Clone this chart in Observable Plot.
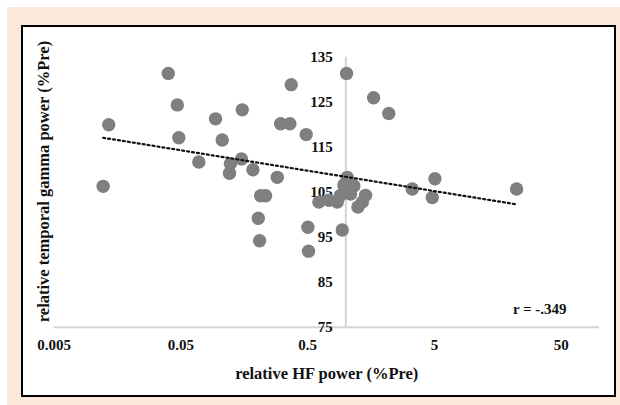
<!DOCTYPE html>
<html>
<head>
<meta charset="utf-8">
<script src="https://cdn.jsdelivr.net/npm/d3@7"></script>
<script src="https://cdn.jsdelivr.net/npm/@observablehq/plot@0.6"></script>
<style>
  html, body { margin: 0; padding: 0; background: #ffffff; }
  #wrap { position: relative; width: 620px; height: 405px; overflow: hidden; }
  #peach { position: absolute; left: 7px; top: 7px; width: 613px; height: 398px; background: #fbe8da; }
  #box { position: absolute; left: 21px; top: 25px; width: 591px; height: 368px; background: #ffffff; border: 2.5px solid #000000; }
  #chart { position: absolute; left: 0; top: 0; }
</style>
</head>
<body>
<div id="wrap">
  <div id="peach"></div>
  <div id="box"></div>
  <div id="chart"></div>
</div>
<script>
// ---- data ----
const xTicks = [0.005, 0.05, 0.5, 5, 50];
const xTickLabels = ["0.005", "0.05", "0.5", "5", "50"];
const yTicks = [75, 85, 95, 105, 115, 125, 135];
const hfPower = [0.0398, 0.0469, 0.0135, 0.0482, 0.0939, 0.1525, 0.106, 0.371, 0.306, 0.362,
  0.487, 0.0693, 0.123, 0.1505, 0.121, 0.185, 0.288, 0.0122, 0.2127, 0.233,
  0.204, 0.209, 0.502, 0.508, 1.013, 1.655, 2.18, 3.34, 5.04, 4.80,
  22.2, 0.937, 1.025, 0.965, 1.157, 1.09, 0.856, 0.613, 0.735, 1.43,
  1.35, 1.245, 0.908];
const gammaPower = [131.4, 124.4, 120.0, 117.1, 121.3, 123.3, 116.6, 128.9, 120.2, 120.2,
  117.8, 111.7, 111.3, 112.4, 109.2, 110.0, 108.3, 106.3, 104.2, 104.2,
  99.2, 94.2, 97.2, 91.9, 131.4, 126.0, 122.5, 105.7, 108.0, 103.8,
  105.7, 96.6, 108.3, 106.6, 106.4, 104.6, 102.8, 102.8, 103.2, 104.3,
  102.8, 101.7, 104.3];
const trendX = [0.0122, 22.2];
const trendY = [117.1, 102.3];
const axisCross = [1];
const annotation = [{x: 55, y: 78.9, text: "r = -.349"}];
const xTitle = "relative HF power (%Pre)";
const yTitle = "relative temporal gamma power (%Pre)";

const points = hfPower.map((v, i) => ({x: v, y: gammaPower[i]}));
const trend = trendX.map((v, i) => ({x: v, y: trendY[i]}));
const xTickData = xTicks.map((v, i) => ({x: v, label: xTickLabels[i]}));

const font = "'Liberation Serif', 'Times New Roman', serif";
const txt = {fontSize: 15, fontWeight: "bold", fill: "#111"};
const ttl = {fontSize: 16.5, fontWeight: "bold", fill: "#111"};

const chart = Plot.plot({
  width: 620,
  height: 405,
  marginLeft: 53.5,
  marginRight: 21,
  marginTop: 56.7,
  marginBottom: 78.3,
  style: {background: "transparent", fontFamily: font, overflow: "visible"},
  x: {type: "log", domain: [0.005, 100], axis: null},
  y: {domain: [75, 135], axis: null},
  marks: [
    Plot.ruleY([75], {stroke: "#d4d4d4", strokeWidth: 2}),
    Plot.ruleX(axisCross, {y1: 75, y2: 135, stroke: "#d4d4d4", strokeWidth: 2}),
    Plot.text(xTickData, {x: "x", y: () => 75, text: "label", dy: 18, lineAnchor: "middle", ...txt}),
    Plot.text(yTicks, {x: () => 1, y: d => d, text: d => String(d), dx: -13, textAnchor: "end", lineAnchor: "middle", ...txt}),
    Plot.dot(points, {x: "x", y: "y", r: 6.7, fill: "#7f7f7f", stroke: "none"}),
    Plot.line(trend, {x: "x", y: "y", stroke: "#111", strokeWidth: 2.2, strokeDasharray: "2,3"}),
    Plot.text(annotation, {x: "x", y: "y", text: "text", textAnchor: "end", lineAnchor: "middle", ...txt}),
    Plot.text([xTitle], {frameAnchor: "bottom", dy: 47, textAnchor: "middle", lineAnchor: "middle", ...ttl}),
    Plot.text([yTitle], {frameAnchor: "left", rotate: -90, dx: -10.5, dy: -10.7, textAnchor: "middle", lineAnchor: "middle", ...ttl})
  ]
});
document.getElementById("chart").appendChild(chart);
</script>
</body>
</html>
